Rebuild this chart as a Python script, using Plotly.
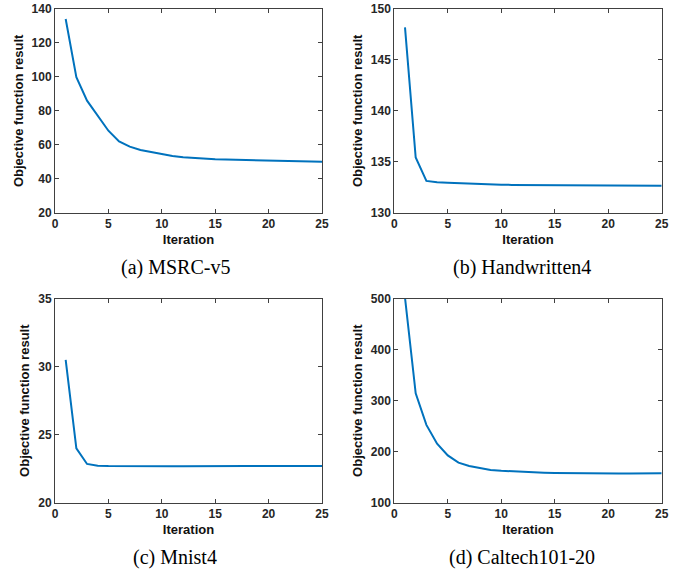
import plotly.graph_objects as go

iterations = list(range(1, 26))

msrc_v5 = [134.1, 99.8, 86.0, 77.2, 68.3, 62.0, 58.9, 56.9, 55.6, 54.4,
           53.4, 52.7, 52.2, 51.8, 51.5, 51.3, 51.1, 50.9, 50.8, 50.6,
           50.5, 50.3, 50.2, 50.1, 50.0]
handwritten4 = [148.2, 135.42, 133.12, 132.99, 132.94, 132.89, 132.85, 132.81, 132.78, 132.75,
                132.73, 132.72, 132.71, 132.70, 132.69, 132.68, 132.68, 132.67, 132.67, 132.66,
                132.66, 132.66, 132.65, 132.65, 132.65]
mnist4 = [30.5, 24.0, 22.85, 22.72, 22.69, 22.68, 22.68, 22.68, 22.68, 22.68,
          22.68, 22.68, 22.69, 22.69, 22.69, 22.69, 22.69, 22.69, 22.69, 22.69,
          22.70, 22.70, 22.70, 22.70, 22.70]
caltech101_20 = [502.0, 314.4, 252.6, 215.6, 192.8, 178.6, 172.0, 167.4, 164.2, 162.5,
                 161.3, 160.3, 159.5, 158.9, 158.4, 158.0, 157.7, 157.5, 157.4, 157.3,
                 157.3, 157.4, 157.4, 157.5, 157.6]

series = [msrc_v5, handwritten4, mnist4, caltech101_20]
captions = ["(a) MSRC-v5", "(b) Handwritten4", "(c) Mnist4", "(d) Caltech101-20"]
y_ranges = [[20, 140], [130, 150], [20, 35], [100, 500]]
y_dticks = [20, 5, 5, 100]
x_ticks = [0, 5, 10, 15, 20, 25]

W, H = 682, 572
x_domains = [[55 / W, 322 / W], [394.3 / W, 661.7 / W]]
y_domains = [[1 - 212.7 / H, 1 - 9 / H], [1 - 502.7 / H, 1 - 298.7 / H]]
caption_x = [175 / W, 522 / W]
caption_y = [1 - 267 / H, 1 - 557 / H]

fig = go.Figure()
tick_font = dict(family="Liberation Sans, Arial, sans-serif", size=12, color="#262626", weight="bold")
title_font = dict(family="Liberation Sans, Arial, sans-serif", size=13, color="#111111", weight="bold")

layout = {}
for i, ys in enumerate(series):
    r, c = divmod(i, 2)
    n = "" if i == 0 else str(i + 1)
    fig.add_trace(go.Scatter(
        x=iterations, y=ys, mode="lines",
        line=dict(color="#0072BD", width=2),
        xaxis="x" + n, yaxis="y" + n, showlegend=False,
    ))
    common = dict(
        showgrid=False, zeroline=False, showline=True, linecolor="#404040",
        linewidth=1, mirror="ticks", ticks="inside", ticklen=4, tickcolor="#404040",
        tickfont=tick_font, automargin=False,
    )
    layout["xaxis" + n] = dict(
        domain=x_domains[c], anchor="y" + n, range=[0, 25],
        tickmode="array", tickvals=x_ticks,
        title=dict(text="Iteration", font=title_font, standoff=4),
        **common,
    )
    layout["yaxis" + n] = dict(
        domain=y_domains[r], anchor="x" + n, range=y_ranges[i],
        dtick=y_dticks[i], tick0=y_ranges[i][0],
        title=dict(text="Objective function result", font=title_font, standoff=5),
        **common,
    )
    fig.add_annotation(
        text=captions[i], xref="paper", yref="paper",
        x=caption_x[c], y=caption_y[r], xanchor="center", yanchor="middle",
        showarrow=False,
        font=dict(family="Liberation Serif, Times New Roman, serif", size=20, color="black"),
    )

fig.update_layout(
    width=W, height=H, margin=dict(l=0, r=0, t=0, b=0, autoexpand=False),
    paper_bgcolor="white", plot_bgcolor="white",
    **layout,
)
fig.write_html(
    "out.html",
    config={"displayModeBar": False},
    post_script="document.body.style.margin='0';document.body.style.overflow='hidden';",
)
